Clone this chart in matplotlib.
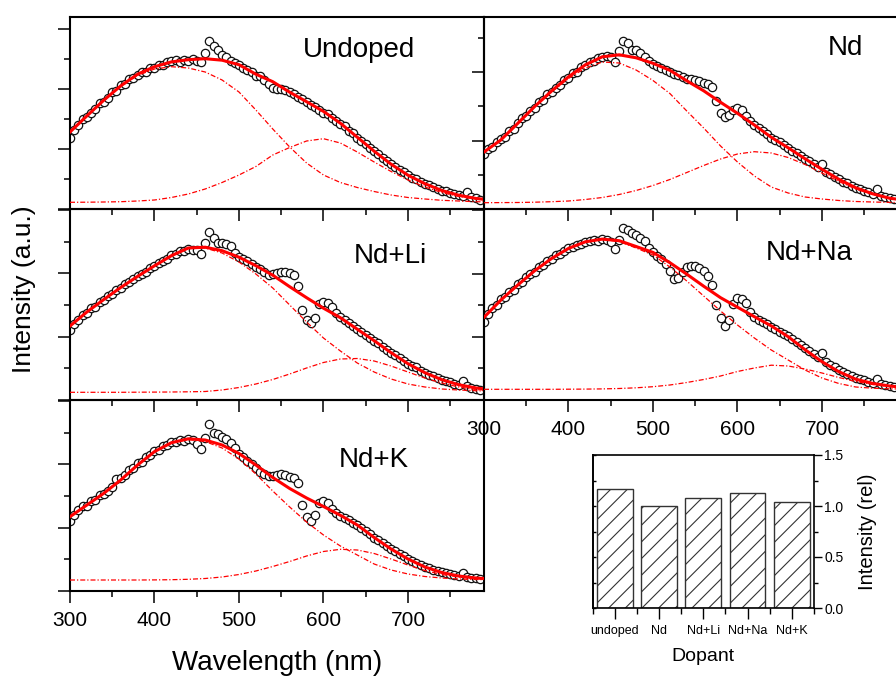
import numpy as np
import matplotlib.pyplot as plt
from matplotlib.ticker import MultipleLocator

plt.rcParams['font.family'] = ['Liberation Sans', 'DejaVu Sans']
plt.rcParams['hatch.linewidth'] = 0.8

# measured PL spectra (a.u.), one point every 5 nm starting at 300 nm
spec_undoped = [71, 79, 84, 90, 92, 96, 100, 106, 107, 111,
                117, 118, 124, 125, 130, 131, 134, 137, 137, 141,
                141, 144, 144, 147, 148, 149, 147, 149, 148, 150,
                148, 147, 156, 168, 163, 159, 154, 152, 148, 146,
                144, 141, 139, 137, 133, 133, 129, 125, 121, 120,
                120, 119, 117, 115, 112, 110, 107, 104, 102, 99,
                96, 95, 91, 88, 85, 83, 78, 76, 71, 68,
                65, 61, 58, 55, 51, 48, 45, 42, 39, 37,
                34, 31, 30, 27, 25, 24, 22, 20, 18, 18,
                16, 15, 14, 13, 17, 12, 11, 9]
spec_nd = [55, 60, 62, 67, 70, 72, 78, 80, 86, 91,
           93, 98, 101, 107, 109, 115, 117, 121, 124, 129,
           131, 136, 137, 142, 144, 147, 148, 151, 152, 153,
           152, 147, 158, 168, 166, 159, 159, 156, 152, 148,
           145, 143, 141, 139, 137, 135, 134, 132, 130, 130,
           129, 128, 126, 125, 122, 108, 96, 92, 94, 99,
           101, 99, 93, 88, 84, 81, 78, 75, 71, 69,
           67, 64, 61, 58, 56, 53, 50, 48, 45, 42,
           45, 37, 35, 32, 30, 27, 26, 23, 21, 20,
           18, 17, 15, 20, 13, 12, 11, 10]
spec_nd_li = [70, 76, 80, 85, 87, 92, 93, 98, 100, 104,
              106, 110, 112, 116, 118, 121, 124, 126, 128, 132,
              134, 137, 139, 141, 145, 146, 149, 149, 151, 150,
              150, 146, 157, 168, 162, 157, 157, 156, 154, 147,
              143, 141, 139, 136, 133, 131, 128, 125, 126, 127,
              128, 128, 127, 125, 114, 90, 80, 77, 82, 96,
              98, 97, 93, 87, 83, 80, 77, 74, 71, 68,
              65, 62, 59, 57, 53, 50, 47, 45, 42, 39,
              36, 34, 33, 29, 27, 25, 24, 22, 20, 19,
              18, 16, 15, 19, 14, 12, 11, 10]
spec_nd_na = [78, 86, 92, 95, 101, 103, 108, 110, 116, 118,
              123, 126, 128, 133, 135, 139, 141, 145, 146, 149,
              152, 153, 155, 156, 158, 159, 160, 159, 161, 160,
              158, 151, 160, 172, 170, 167, 165, 162, 159, 152,
              148, 144, 141, 136, 129, 121, 122, 128, 133, 134,
              134, 132, 129, 124, 115, 95, 82, 74, 80, 96,
              102, 101, 97, 88, 83, 80, 78, 76, 73, 71,
              68, 66, 64, 61, 58, 55, 52, 49, 46, 43,
              47, 38, 35, 33, 30, 28, 26, 24, 22, 21,
              20, 18, 17, 21, 16, 15, 14, 13]
spec_nd_k = [70, 76, 81, 85, 85, 90, 91, 96, 97, 100,
             104, 112, 113, 116, 121, 123, 128, 129, 134, 136,
             140, 141, 145, 146, 149, 149, 151, 150, 152, 151,
             147, 142, 153, 167, 158, 157, 154, 152, 148, 143,
             137, 134, 130, 127, 123, 119, 117, 115, 115, 116,
             117, 116, 114, 113, 108, 86, 74, 70, 76, 88,
             90, 88, 82, 78, 75, 73, 71, 68, 66, 63,
             60, 57, 53, 51, 48, 45, 42, 40, 37, 35,
             32, 30, 28, 26, 24, 23, 21, 20, 19, 18,
             17, 16, 15, 18, 14, 13, 13, 12]

# gaussian bands of the fits, one point every 20 nm from 300 to 800 nm
band1_undoped = [77, 93, 108.5, 122.5, 133.5, 140, 142.3, 141, 137, 129,
                 117, 99, 80, 62, 46, 34, 26.5, 21.5, 17.5, 14,
                 11.5, 10, 8.7, 8, 7.3, 7]
band2_undoped = [6.7, 6.8, 7, 7.3, 8, 9, 11.5, 15, 20, 26.5,
                 34, 42.5, 54, 61.5, 68, 70.3, 66, 57, 47, 37.5,
                 29, 22, 16.5, 12.5, 10, 8.5]
band1_nd = [57, 69, 85.5, 102, 117, 130.5, 141, 147, 146, 139,
            128.5, 115.5, 98, 81, 63, 47, 33, 22, 16, 12,
            10, 8.5, 7.5, 7, 6.6, 6.4]
band2_nd = [6.3, 6.4, 6.5, 6.8, 7.3, 8, 9.5, 11.5, 14.5, 18.5,
            23.5, 29.5, 36.5, 43.5, 50, 55, 57.3, 56, 51.5, 44.5,
            36, 27.5, 20, 14.5, 10.5, 8.5]
band1_nd_li = [74, 88, 100.5, 112.5, 123.5, 134, 144, 151.5, 152, 147,
               138, 126, 112, 95, 78, 62, 49, 37, 28, 21,
               16, 13, 11, 10, 9.3, 8.8]
band2_nd_li = [7.7, 7.7, 7.7, 7.7, 7.8, 7.9, 8.0, 8.2, 8.5, 10,
               12.5, 16, 20.5, 26, 32, 37.5, 41, 41.5, 39, 34,
               28, 22, 17, 13, 10.5, 9]
band1_nd_na = [82.7, 100, 115, 129.3, 141.5, 151.5, 158, 160.5, 158.5, 152,
               145, 133, 119, 104, 89, 75, 62, 50, 40, 30,
               22, 16.5, 13, 11.8, 11.2, 10.9]
band2_nd_na = [10.7, 10.7, 10.7, 10.7, 10.7, 10.8, 10.9, 11.1, 11.5, 12.2,
               13.3, 15, 17.5, 20.5, 24, 28.5, 32, 34.8, 34, 31,
               27, 22.5, 18.5, 15.5, 13.5, 12.3]
band1_nd_k = [74.3, 86, 97.7, 111, 126, 139.3, 148, 151.5, 149.5, 143,
              132, 117, 100, 84, 69, 56, 45, 36, 27, 21,
              17, 14.5, 13, 12, 11.5, 11.2]
band2_nd_k = [11, 11, 11, 11, 11, 11.1, 11.3, 11.7, 12.5, 14,
              16.5, 20, 24.5, 29.5, 35, 39.5, 41.7, 41, 37.5, 32,
              26, 20.5, 16.5, 14, 12.5, 11.8]

# constant background of each fit
background = [6.7, 6.3, 7.7, 10.7, 11.0]

names = ['Undoped', 'Nd', 'Nd+Li', 'Nd+Na', 'Nd+K']

# integrated emission relative to the Nd sample
dopants = ['undoped', 'Nd', 'Nd+Li', 'Nd+Na', 'Nd+K']
rel_intensity = [1.17, 1.00, 1.08, 1.13, 1.04]

spectra = [spec_undoped, spec_nd, spec_nd_li, spec_nd_na, spec_nd_k]
bands = [(band1_undoped, band2_undoped), (band1_nd, band2_nd),
         (band1_nd_li, band2_nd_li), (band1_nd_na, band2_nd_na),
         (band1_nd_k, band2_nd_k)]

W, H = 896, 677
fig = plt.figure(figsize=(W / 100, H / 100), dpi=100)

# panel left edge / top edge / height in pixels, y-tick step, label spot
layout = [
    (70, 17, 192, 30.0, (0.698, 0.790)),
    (484, 17, 192, 34.2, (0.872, 0.802)),
    (70, 209, 191, 31.7, (0.775, 0.719)),
    (484, 209, 191, 31.6, (0.785, 0.733)),
    (70, 400, 191, 31.7, (0.733, 0.651)),
]

for i, (x0, top, h, step, (tx, ty)) in enumerate(layout):
    ax = fig.add_axes([x0 / W, 1 - (top + h) / H, 414 / W, h / H])
    ax.patch.set_visible(False)

    obs = np.array(spectra[i], dtype=float)
    wl = 300 + 5 * np.arange(len(obs))
    b1 = np.array(bands[i][0])
    b2 = np.array(bands[i][1])
    wl_fit = 300 + 20 * np.arange(len(b1))

    ax.plot(wl, obs, 'o', ms=6, mfc='white', mec='#111111', mew=0.9, zorder=2)
    for b in (b1, b2):
        ax.plot(wl_fit, b, color='red', lw=0.9, ls=(0, (4, 1.6, 1, 1.6)), zorder=3)
    ax.plot(wl_fit, b1 + b2 - background[i], color='red', lw=2.2, zorder=4)

    ax.text(tx, ty, names[i], transform=ax.transAxes, ha='center',
            va='baseline', fontsize=20)

    ax.set_xlim(300, 790)
    ax.set_ylim(0, h)
    ax.xaxis.set_major_locator(MultipleLocator(100))
    ax.xaxis.set_minor_locator(MultipleLocator(50))
    ax.yaxis.set_major_locator(MultipleLocator(2 * step))
    ax.yaxis.set_minor_locator(MultipleLocator(step))
    ax.tick_params(which='both', direction='out', top=False, right=False,
                   labelleft=False, labelbottom=(i >= 3), width=1.1,
                   labelsize=15, pad=6)
    ax.tick_params(which='major', length=8.4)
    ax.tick_params(which='minor', length=4)
    for sp in ax.spines.values():
        sp.set_linewidth(1.5)

fig.text(276.7 / W, 1 - 670 / H, 'Wavelength (nm)', ha='center',
         va='baseline', fontsize=20)
fig.text(24 / W, 1 - 289 / H, 'Intensity (a.u.)', rotation=90, ha='center',
         va='center', fontsize=19)

# inset: relative intensity per dopant
axb = fig.add_axes([592.5 / W, 1 - 608 / H, 221.5 / W, 153 / H])
pos = np.arange(len(dopants))
axb.bar(pos, rel_intensity, width=0.81, color='white', edgecolor='#333333',
        hatch='//', lw=1.0)
axb.set_xlim(-0.5, 4.5)
axb.set_ylim(0, 1.5)
axb.set_xticks(pos)
axb.set_xticklabels(dopants)
axb.set_xticks(np.arange(-0.5, 5, 1), minor=True)
axb.yaxis.tick_right()
axb.yaxis.set_label_position('right')
axb.yaxis.set_major_locator(MultipleLocator(0.5))
axb.yaxis.set_minor_locator(MultipleLocator(0.25))
axb.yaxis.set_major_formatter('{x:.1f}')
axb.tick_params(axis='y', which='both', direction='out', labelsize=10,
                pad=1.5, width=1)
axb.tick_params(axis='y', which='major', length=6)
axb.tick_params(axis='y', which='minor', length=3)
axb.tick_params(axis='x', which='major', length=8, width=1, pad=4, labelsize=9)
axb.tick_params(axis='x', which='minor', length=4, width=1)
axb.set_xlabel('Dopant', fontsize=14, labelpad=8)
axb.set_ylabel('Intensity (rel)', fontsize=14.5, labelpad=10)
for sp in axb.spines.values():
    sp.set_linewidth(1.2)

sec = axb.secondary_yaxis('left')
sec.yaxis.set_major_locator(MultipleLocator(0.25))
sec.tick_params(axis='y', direction='in', length=2.5, width=1, labelleft=False)
sec.spines['left'].set_linewidth(1.2)

fig.savefig('out.png', dpi=100)
